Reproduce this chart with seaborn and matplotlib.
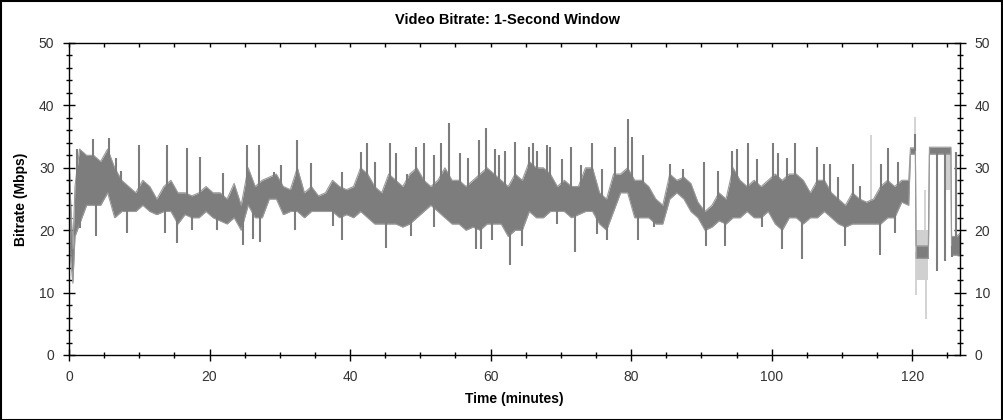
import numpy as np
import matplotlib
matplotlib.use("Agg")
import matplotlib.pyplot as plt
from matplotlib.ticker import MultipleLocator
import seaborn as sns
import pandas as pd

# ---------------- data ----------------
title = "Video Bitrate: 1-Second Window"
xlabel = "Time (minutes)"
ylabel = "Bitrate (Mbps)"
x_ticks = [0, 20, 40, 60, 80, 100, 120]
y_ticks = [0, 10, 20, 30, 40, 50]

# dense band of the 1-second bitrate (upper / lower edge), Mbps
head_t = [0.0, 0.25, 0.55, 0.85]
head_hi = [32, 24, 17, 27]
head_lo = [27, 15, 11.5, 19]

# one value per minute, minute 1 .. 119 (knot at mid-minute)
minute_hi = [33, 32, 32, 31, 33, 30, 28, 27, 26, 28,
             27, 25, 27, 28, 26, 26, 25.5, 26, 27, 26,
             26, 25, 27.5, 24, 30, 27, 28, 28.5, 29, 27,
             26.5, 30, 26, 27, 25.5, 26, 28, 27, 26.5, 27,
             30, 29, 27, 26, 29, 28, 27, 29, 30, 28,
             27, 28, 30, 28, 28, 27, 28, 29, 30, 29,
             28, 27, 29, 28, 31, 30, 30, 29, 27, 28,
             27, 27, 30, 30, 26, 25, 29, 29, 30, 28,
             28, 27, 25, 24, 29, 28, 28.5, 27.5, 24.5, 23,
             24, 26, 25, 30, 28, 27, 28, 27, 28, 29,
             28, 29, 29, 28, 26, 28, 28, 26, 25, 24,
             26, 25, 24.5, 25, 27, 28, 27, 28, 28]
minute_lo = [21, 24, 24, 24, 26, 22, 23, 23, 23, 24,
             23, 22.5, 23, 23, 21, 22.5, 22, 22, 23, 22,
             21.5, 21, 22, 20, 24, 22, 22, 25, 25, 22.5,
             23, 23, 22, 23, 23, 23, 23, 22, 22.5, 22,
             23, 22, 21, 21, 21, 21, 20.5, 21, 22, 23,
             24, 23, 22, 21, 21, 20, 20.5, 20, 21, 21,
             21, 19, 20, 20, 23, 22, 22, 23, 23, 23,
             22, 22.5, 23, 23, 21, 20, 23, 26, 26, 22,
             22, 22, 21, 21, 25, 26, 25, 23, 22, 20,
             20.5, 21.5, 21, 22, 22, 23, 22, 22, 23, 21,
             20, 22, 22, 21, 22, 22, 23, 22, 21, 20.5,
             21, 21, 21, 21, 21, 22, 22, 24.5, 24]

tail_t = [119.75, 120.45, 120.55, 122.3, 122.45, 125.5, 125.6, 126.1, 126.3, 126.8]
tail_hi = [33.2, 33.2, 17.5, 17.5, 33.3, 33.3, 19, 19, 19, 19.5]
tail_lo = [32.2, 32.2, 15.5, 15.5, 32.2, 32.2, 16, 16, 16, 16]

# short upward peaks (minute, Mbps)
spike_t = [1.2, 3.4, 5.7, 6.7, 7.4, 9.9, 13.9, 16.8, 18.7, 21.9, 25.4, 27.0,
           29.2, 30.1, 32.5, 34.5, 38.8, 41.6, 42.4, 43.5, 45.7, 46.6, 48.1,
           49.4, 50.5, 51.9, 53.0, 54.1, 55.6, 56.8, 58.3, 59.4, 60.6, 61.2,
           62.1, 63.5, 65.4, 66.1, 66.6, 68.0, 68.5, 70.1, 71.5, 72.8, 74.4,
           75.8, 77.7, 79.5, 80.1, 81.7, 85.5, 87.4, 90.3, 92.4, 94.3, 95.1,
           96.7, 97.9, 100.2, 100.9, 102.2, 103.3, 106.4, 107.4, 108.3,
           109.5, 111.6, 112.5, 115.6, 116.6, 118.0, 120.4, 126.2]
spike_v = [33, 34.6, 34.8, 31.5, 29.5, 33.7, 33.7, 33.2, 31.7, 29.1, 33.6, 33.6,
           29.4, 30.4, 34.4, 30.7, 29.4, 32.5, 33.9, 31.0, 33.9, 32.4, 29.0,
           33.3, 33.9, 32.0, 33.9, 37.1, 32.4, 31.5, 34.5, 36.3, 33.0, 32.0,
           32.7, 34.1, 33.3, 33.9, 32.7, 33.6, 33.3, 31.4, 33.3, 30.5, 33.9,
           29.8, 33.3, 37.9, 35.0, 32.0, 30.6, 29.8, 30.9, 29.5, 32.7, 33.0,
           33.9, 31.4, 33.9, 32.4, 31.5, 33.9, 33.3, 30.6, 30.6,
           28.5, 30.6, 27.1, 30.6, 33.1, 30.9, 35.4, 32.5]

# short downward drops (minute, Mbps)
dip_t = [1.5, 3.9, 8.2, 13.6, 15.4, 17.5, 21.1, 24.7, 26.2, 27.2, 32.1, 37.5,
         38.9, 45.1, 48.7, 52.0, 57.9, 58.7, 60.2, 62.8, 64.5, 69.4, 72.0, 75.1,
         76.6, 81.0, 83.2, 90.7, 93.4, 98.6, 101.5, 104.3, 110.4, 115.4,
         117.6, 123.5, 124.6, 125.6]
dip_v = [20.4, 19, 19.6, 19.6, 18, 20, 20, 17.6, 18.6, 18.1, 20, 20.6,
         18.4, 17.1, 19.1, 20.5, 17, 17, 18.5, 14.4, 17.5, 21, 16.5, 19.4,
         18.4, 18.4, 20.5, 17.5, 17.5, 20.5, 17, 15.4, 17.5, 16,
         19.5, 13.5, 15.1, 15.7]

# faint (light grey) excursions
light_t = [114.2, 120.4, 120.6, 121.8, 121.9]
light_v = [35.2, 38.1, 9.6, 26.4, 5.7]
light_band_t = [120.55, 122.3, 124.7, 125.4]
light_band_hi = [20, 20, 33, 33]
light_band_lo = [12, 12, 26.4, 26.4]

# ---------------- build tables ----------------
mid_t = np.arange(1, 120) + 0.5
band = pd.DataFrame({
    "t": list(head_t) + list(mid_t) + list(tail_t),
    "hi": head_hi + minute_hi + tail_hi,
    "lo": head_lo + minute_lo + tail_lo,
})
band["mid"] = (band["hi"] + band["lo"]) / 2

# ---------------- figure ----------------
sns.set_style("white")
plt.rcParams["font.family"] = ["Liberation Sans", "DejaVu Sans"]

fig = plt.figure(figsize=(10.04, 4.20), dpi=100)
ax = fig.add_axes([69 / 1004, 65 / 420, 891 / 1004, 312 / 420])

dark = "#7d7d7d"
light = "#d0d0d0"

# light layer
for i in range(0, len(light_band_t), 2):
    ax.fill_between(light_band_t[i:i + 2], light_band_lo[i:i + 2],
                    light_band_hi[i:i + 2], color=light, lw=0, zorder=1)
lt_base = np.interp(light_t, band["t"], band["mid"])
ax.vlines(light_t, lt_base, light_v, color=light, lw=1.3, zorder=1)

# dark band
ax.fill_between(band["t"], band["lo"], band["hi"], color=dark, lw=0, zorder=2)
sns.lineplot(data=band, x="t", y="hi", ax=ax, color="#9a9a9a", lw=0.8, zorder=2)
sns.lineplot(data=band, x="t", y="lo", ax=ax, color="#9a9a9a", lw=0.8, zorder=2)

sp_base = np.interp(spike_t, band["t"], band["mid"])
ax.vlines(spike_t, sp_base, spike_v, color=dark, lw=1.5, zorder=2)
dp_base = np.interp(dip_t, band["t"], band["mid"])
ax.vlines(dip_t, dip_v, dp_base, color=dark, lw=1.5, zorder=2)

# axes styling
ax.set_xlim(0, 126.8)
ax.set_ylim(0, 50)
ax.set_xticks(x_ticks)
ax.set_yticks(y_ticks)
ax.xaxis.set_minor_locator(MultipleLocator(5))
ax.yaxis.set_minor_locator(MultipleLocator(2))
for s in ax.spines.values():
    s.set_visible(True)
    s.set_color("#000000")
    s.set_linewidth(1.0)
ax.tick_params(axis="both", which="major", direction="inout", length=9,
               width=1, color="#000000", labelsize=10, labelcolor="#333333")
ax.tick_params(axis="both", which="minor", direction="inout", length=5,
               width=1, color="#000000")
ax.tick_params(axis="y", which="both", left=True, right=True,
               labelleft=True, labelright=True, pad=6)
ax.tick_params(axis="x", which="both", bottom=True, top=False,
               labeltop=False, pad=6)

# small inward ticks along the top edge
top = ax.secondary_xaxis("top")
top.set_xticks(x_ticks)
top.xaxis.set_minor_locator(MultipleLocator(5))
top.tick_params(which="both", direction="in", length=3, width=1,
                color="#000000", labeltop=False)
top.spines["top"].set_visible(False)

ax.set_xlabel(xlabel, fontsize=10, fontweight="bold", color="#000000", labelpad=6)
ax.set_ylabel(ylabel, fontsize=10, fontweight="bold", color="#000000", labelpad=8)
ax.grid(False)

fig.text(508 / 1004, 1 - 20 / 420, title, ha="center", va="center",
         fontsize=10.5, fontweight="bold", color="#000000")

# outer frame
fig.patches.append(plt.Rectangle((0.0005, 0.001), 0.998, 0.997, transform=fig.transFigure,
                                 fill=False, edgecolor="#000000", lw=1.5))

fig.savefig("out.png", dpi=100, facecolor="white")
